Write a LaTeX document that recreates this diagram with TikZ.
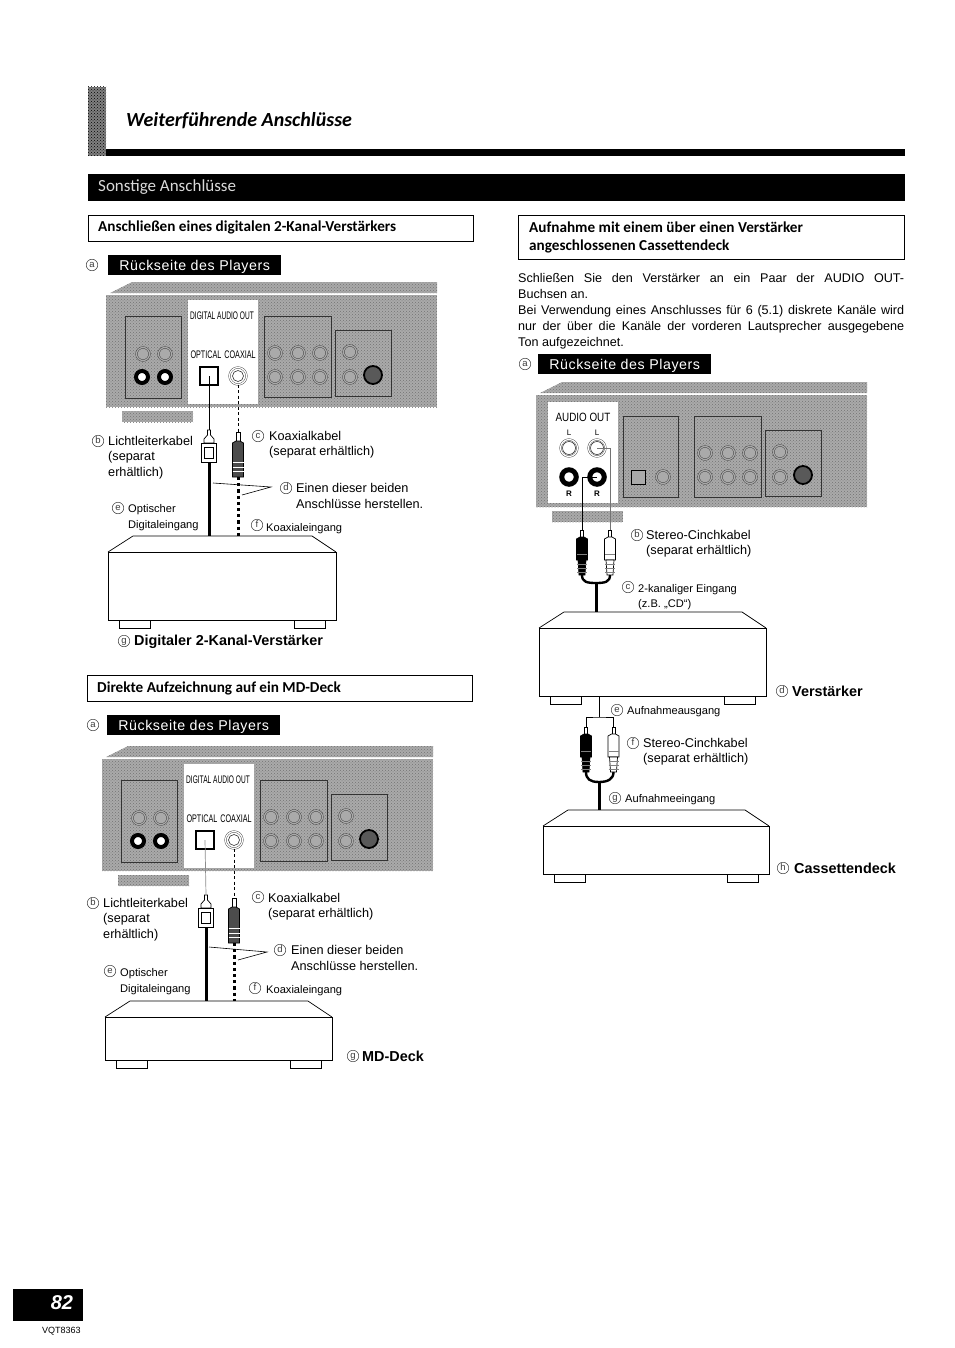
\documentclass[tikz,border=0pt]{standalone}
\usepackage{graphicx}
\usepackage{fontspec}
\setmainfont{Liberation Sans}
\newfontfamily\headfont{Carlito}
\usetikzlibrary{patterns, calc}
\definecolor{panelGray}{HTML}{AAAAAA}
\definecolor{markGray}{HTML}{3A3A3A}
\newcommand{\fsz}[1]{\fontsize{#1}{#1}\selectfont}
\tikzset{
  lbl/.style={anchor=west, inner sep=0pt, yshift=-0.4pt, font=\fsz{12.7}},
  smalllbl/.style={anchor=west, inner sep=0pt, yshift=-1.5pt, font=\fsz{11.1}},
  boldlbl/.style={anchor=west, inner sep=0pt, yshift=-0.4pt, font=\fsz{14.4}\bfseries},
  marklbl/.style={circle, draw=markGray, line width=0.5pt, inner sep=0pt, minimum size=11.5pt, text=markGray, text height=5.5pt, text depth=0pt, font=\fsz{9.5}},
  headlbl/.style={anchor=west, inner sep=0pt, yshift=-1pt, font=\fsz{15.2}\headfont\bfseries},
  blackbar/.style={fill=black, inner sep=0pt, text=white, text height=12pt, text depth=2pt, font=\fsz{14.2}},
  headbox/.style={draw=black, line width=0.9pt, inner sep=0pt},
  halftone/.style={preaction={fill=panelGray}, pattern=crosshatch dots, pattern color=black!55},
  boxline/.style={draw=black!80, line width=0.6pt},
  jack/.style={circle, draw=black!80, double=panelGray, double distance=1.3pt, fill=panelGray, inner sep=0pt, minimum size=13pt},
  whitejack/.style={circle, draw=black!80, double=white, double distance=1.3pt, fill=white, inner sep=0pt, minimum size=17pt},
  injack/.style={circle, draw=black!80, line width=0.6pt, inner sep=0pt, minimum size=11pt},
  blackjack/.style={circle, draw=black, line width=4pt, fill=white, inner sep=0pt, minimum size=12pt},
  svideo/.style={circle, draw=black, line width=1.8pt, fill=black!65, inner sep=0pt, minimum size=18pt},
  portlbl/.style={inner sep=0pt, font=\fsz{11}},
  devicefront/.style={draw=black, line width=0.8pt, fill=white, inner sep=0pt, outer sep=0pt},
  deviceline/.style={draw=black, line width=0.7pt},
  lead/.style={draw=black, line width=0.7pt},
  dashlead/.style={draw=black, line width=0.6pt, dash pattern=on 3pt off 2.5pt},
  fatcable/.style={draw=black, line width=3pt},
  dotcable/.style={draw=black, line width=3pt, dash pattern=on 3.2pt off 3pt},
  ycable/.style={draw=black, line width=2.4pt},
  pointer/.style={draw=black, line width=0.6pt},
  pics/playerback/.style={code={
    \path[halftone] (4,-2) -- (26,-13) -- (331,-13) -- (331,-2) -- cycle;
    \path[halftone] (0,0) rectangle (331,112);
    \path[halftone] (16,116) rectangle (87,127);
    \draw[boxline] (158,21) rectangle (225,102);
    \draw[boxline] (229,35) rectangle (285,101);
    \foreach \x/\y/\n in {169/58/a, 192/58/b, 214/58/c, 169/82/d, 192/82/e, 214/82/f, 244/57/g, 244/82/h}
      \node[jack] (-j\n) at (\x,\y) {};
    \node[svideo] (-sv) at (267,80) {};
  }},
  pics/digipanel/.style={code={
    \pic {playerback};
    \draw[boxline] (19,21) rectangle (75,103);
    \foreach \x/\n in {37/a, 59/b}
      \node[jack] (-t\n) at (\x,59) {};
    \foreach \x/\n in {36/a, 59/b}
      \node[blackjack] (-u\n) at (\x,82) {};
    \draw[fill=white, draw=white] (82,5) rectangle (151,108);
    \node[portlbl] (-dao) at (116,21) {\scalebox{.6}[1]{DIGITAL AUDIO OUT}};
    \node[portlbl] (-optlbl) at (100,60) {\scalebox{.655}[1]{OPTICAL}};
    \node[portlbl] (-coaxlbl) at (134,60) {\scalebox{.655}[1]{COAXIAL}};
    \node[draw=black, line width=1.3pt, fill=white, minimum size=18pt, inner sep=0pt] (-opt) at (103,81) {};
    \node[whitejack] (-coax) at (132,81) {};
    \node[injack] (-coaxin) at (132,81) {};
  }},
  pics/audiopanel/.style={code={
    \pic {playerback};
    \draw[boxline] (87,21) rectangle (142,102);
    \node[draw=black, line width=1pt, fill=panelGray, minimum size=14pt, inner sep=0pt] (-sq) at (102,82) {};
    \node[jack] (-cx) at (127,82) {};
    \draw[fill=white, draw=white] (12,7) rectangle (81,107);
    \node[portlbl, font=\fsz{12}] (-ao) at (47,22) {\scalebox{.82}[1]{AUDIO OUT}};
    \foreach \x/\n in {33/a, 61/b} {
      \node[portlbl, font=\fsz{8}] (-ll\n) at (\x,38) {L};
      \node[whitejack] (-l\n) at (\x,53) {};
      \node[injack, minimum size=13pt] (-li\n) at (\x,53) {};
      \node[blackjack, line width=5pt, minimum size=14.5pt] (-r\n) at (\x,82) {};
      \node[portlbl, font=\fsz{8}\bfseries] (-rl\n) at (\x,99) {R};
    }
  }},
  pics/optplug/.style={code={
    \draw[line width=0.7pt, fill=white] (-1.5,5) -- (-1.5,0) -- (1.5,0) -- (1.5,5) -- (5,9) -- (5,13) -- (-5,13) -- (-5,9) -- cycle;
    \draw[line width=0.7pt, fill=white] (-7.5,13) rectangle (7.5,32);
    \draw[line width=0.7pt] (-4.5,17) rectangle (4.5,28);
    \coordinate (-tip) at (0,0);
    \coordinate (-tail) at (0,32);
  }},
  pics/coaxplug/.style={code={
    \draw[line width=0.7pt, fill=white] (-2,9) -- (-2,0) -- (2,0) -- (2,9) -- cycle;
    \draw[line width=0.7pt, fill=black!70] (-5.5,11) -- (-2,9) -- (2,9) -- (5.5,11) -- (5.5,45) -- (-5.5,45) -- cycle;
    \foreach \y in {30, 35, 39}
      \draw[white, line width=0.9pt] (-5.5,\y) -- (5.5,\y);
    \coordinate (-tip) at (0,0);
    \coordinate (-tail) at (0,45);
  }},
  pics/rcaplug/.style={code={
    \draw[line width=0.7pt, fill=white] (-1.5,7) -- (-1.5,0) -- (1.5,0) -- (1.5,7) -- cycle;
    \draw[line width=0.7pt, fill=#1] (-5.5,9) -- (-2,7) -- (2,7) -- (5.5,9) -- (5.5,30) -- (-5.5,30) -- cycle;
    \draw[line width=0.7pt, fill=#1] (-4,30) -- (4,30) -- (3,45) -- (-3,45) -- cycle;
    \foreach \y in {24, 34, 38, 42}
      \draw[black!50, line width=0.7pt] (-5,\y) -- (5,\y);
    \coordinate (-tip) at (0,0);
    \coordinate (-tail) at (0,45);
  }},
}

\begin{document}
\begin{tikzpicture}[x=1pt, y=-1pt]
    \useasboundingbox (0,0) rectangle (954,1348);
    % page head
    \path[preaction={fill=black!50}, pattern=crosshatch dots, pattern color=black] (88,87) rectangle (106,156);
    \fill[black] (106,149) rectangle (905,156);
    \node[anchor=west, inner sep=0pt, font=\fsz{20}\headfont\bfseries\itshape] (ttitle) at (126,121) {Weiterführende Anschlüsse};
    \node[fill=black, anchor=north west, inner sep=0pt, minimum width=817pt, minimum height=27pt] (secbar) at (88,174) {};
    \node[anchor=west, inner sep=0pt, text=white!85!black, font=\fsz{17}\headfont] (tsec) at (98,187.5) {Sonstige Anschlüsse};
    % section boxes
    \draw[headbox] (88,215) rectangle (473,241);
    \node[headlbl] (hdig) at (98,226) {Anschließen eines digitalen 2-Kanal-Verstärkers};
    \draw[headbox] (518,215) rectangle (904,259);
    \node[headlbl] (hrec) at (529,226) {Aufnahme mit einem über einen Verstärker};
    \node[headlbl] (hrecb) at (529,245) {angeschlossenen Cassettendeck};
    \draw[headbox] (87,675) rectangle (472,701);
    \node[headlbl] (hmd) at (97,687) {Direkte Aufzeichnung auf ein MD-Deck};
    % paragraph
    \node[anchor=north west, inner sep=0pt, text width=386pt, align=justify, font=\fontsize{12.6}{16}\selectfont] (tpara) at (518,273.5) {Schließen Sie den Verstärker an ein Paar der AUDIO OUT-\linebreak Buchsen an.\\ Bei Verwendung eines Anschlusses für 6 (5.1) diskrete Kanäle wird\linebreak nur der über die Kanäle der vorderen Lautsprecher ausgegebene\linebreak Ton aufgezeichnet.};
    % black bars
    \foreach \nm/\x/\y in {bara/108/255, barb/107/715, barc/538/354}
      \node[blackbar, anchor=north west, minimum width=173pt, minimum height=20pt] (\nm) at (\x,\y) {\addfontfeature{LetterSpace=4}Rückseite des Players};
    % player panels
    \pic (pa) at (106,295) {digipanel};
    \pic (pb) at (102,759) {digipanel};
    \pic (pc) at (536,395) {audiopanel};
    % devices
    \foreach \nm/\cx/\cy/\w/\h in {amptwo/222/586/228/68, mddeck/218.5/1038.5/227/43, ampfront/652.5/662/227/68, cassette/656/850/226/48} {
      \node[devicefront, minimum width=\w pt, minimum height=\h pt] (\nm) at (\cx,\cy) {};
      \coordinate (\nm-top) at ($(\nm.north)+(0,-16)$);
      \draw[deviceline] (\nm.north west) -- +(25,-16) -- ($(\nm.north east)+(-24,-16)$) -- (\nm.north east);
      \draw[deviceline] ($(\nm.south west)+(11,0)$) rectangle +(31,8);
      \draw[deviceline] ($(\nm.south east)+(-42,0)$) rectangle +(31,8);
    }
    % digital links
    \pic (oa) at (209,430) {optplug};
    \pic (ca) at (238,432) {coaxplug};
    \pic (ob) at (206,895) {optplug};
    \pic (cb) at (234,898) {coaxplug};
    \draw[lead] (pa-opt.center) -- (oa-tip);
    \draw[dashlead] (pa-coax.south) -- (ca-tip);
    \draw[lead, draw=black!45] (pb-opt.center) -- (ob-tip);
    \draw[dashlead] (pb-coax.south) -- (cb-tip);
    \draw[fatcable] (oa-tail) -- (oa-tail |- amptwo-top);
    \draw[dotcable] (ca-tail) -- (ca-tail |- amptwo-top);
    \draw[fatcable] (ob-tail) -- (ob-tail |- mddeck-top);
    \draw[dotcable] (cb-tail) -- (cb-tail |- mddeck-top);
    \coordinate (pta) at (271,487);
    \coordinate (ptb) at (267,952);
    \draw[pointer] (213,483) -- (pta) -- (242,495);
    \draw[pointer] (209,947) -- (ptb) -- (238,960);
    % stereo links
    \pic (rcaa) at (582,530) {rcaplug=black};
    \pic (rcab) at (610,530) {rcaplug=white};
    \draw[lead] (pc-rb.center) -| (rcaa-tip);
    \draw[lead, draw=black!55] (pc-lb.center) -| (rcab-tip);
    \coordinate (joina) at (596,583);
    \draw[ycable] (rcaa-tail) .. controls +(0,7) and +(-9,0) .. (joina) .. controls +(9,0) and +(0,7) .. (rcab-tail);
    \draw[fatcable] (joina) -- (joina |- ampfront-top);
    \pic (rcac) at (586,727) {rcaplug=black};
    \pic (rcad) at (613.5,727) {rcaplug=white};
    \coordinate (brk) at (599,717);
    \draw[lead] (rcac-tip) |- (brk) -| (rcad-tip);
    \draw[lead] (brk) -- (brk |- ampfront.south);
    \coordinate (joinb) at (599,782);
    \draw[ycable] (rcac-tail) .. controls +(0,7) and +(-9,0) .. (joinb) .. controls +(9,0) and +(0,7) .. (rcad-tail);
    \draw[fatcable] (joinb) -- (joinb |- cassette-top);
    % circled letters
    \foreach \nm/\x/\y/\ch in {a1/92/265/a, b1/98/441/b, c1/258/436/c, d1/286/488/d, e1/118/508/e, f1/257/525/f, g1/124/641/g,
        a2/93/725/a, b2/93/903/b, c2/258/897/c, d2/280/950/d, e2/110/971/e, f2/255/988/f, g2/353/1056/g,
        a3/525/364/a, b3/637/535/b, c3/628/587/c, d3/782/691/d, e3/617/710/e, f3/633/743/f, g3/615/798/g, h3/783/868/h}
      \node[marklbl] (m\nm) at (\x,\y) {\ch};
    % labels, top left
    \node[lbl] (tlichta) at (108,441) {Lichtleiterkabel};
    \node[lbl] (tlichtb) at (108,457) {(separat};
    \node[lbl] (tlichtc) at (108,473) {erhältlich)};
    \node[lbl] (tkoaxa) at (269,436) {Koaxialkabel};
    \node[lbl] (tkoaxb) at (269,452) {(separat erhältlich)};
    \node[lbl] (teina) at (296,488) {Einen dieser beiden};
    \node[lbl] (teinb) at (296,504) {Anschlüsse herstellen.};
    \node[smalllbl] (toptb) at (128,508) {Optischer};
    \node[smalllbl] (toptc) at (128,524) {Digitaleingang};
    \node[smalllbl] (tkoaxe) at (266,527) {Koaxialeingang};
    \node[boldlbl] (tampa) at (134,641) {Digitaler 2-Kanal-Verstärker};
    % labels, bottom left
    \node[lbl] (tlichtd) at (103,903) {Lichtleiterkabel};
    \node[lbl] (tlichte) at (103,919) {(separat};
    \node[lbl] (tlichtf) at (103,935) {erhältlich)};
    \node[lbl] (tkoaxc) at (268,898) {Koaxialkabel};
    \node[lbl] (tkoaxd) at (268,914) {(separat erhältlich)};
    \node[lbl] (teinc) at (291,950) {Einen dieser beiden};
    \node[lbl] (teind) at (291,966) {Anschlüsse herstellen.};
    \node[smalllbl] (toptd) at (120,972) {Optischer};
    \node[smalllbl] (topte) at (120,988) {Digitaleingang};
    \node[smalllbl] (tkoaxf) at (266,989) {Koaxialeingang};
    \node[boldlbl] (tmd) at (362,1056) {MD-Deck};
    % labels, right
    \node[lbl] (tcincha) at (646,535) {Stereo-Cinchkabel};
    \node[lbl] (tcinchb) at (646,551) {(separat erhältlich)};
    \node[smalllbl] (tkana) at (638,588) {2-kanaliger Eingang};
    \node[smalllbl] (tkanb) at (638,603) {(z.B. „CD“)};
    \node[boldlbl] (tamp) at (792,691) {Verstärker};
    \node[smalllbl] (tausg) at (627,710) {Aufnahmeausgang};
    \node[lbl] (tcinchc) at (643,743) {Stereo-Cinchkabel};
    \node[lbl] (tcinchd) at (643,759) {(separat erhältlich)};
    \node[smalllbl] (teing) at (625,798) {Aufnahmeeingang};
    \node[boldlbl] (tcass) at (794,868) {Cassettendeck};
    % page number
    \node[fill=black, anchor=north west, inner sep=0pt, minimum width=70pt, minimum height=32pt] (pagebox) at (13,1289) {};
    \node[text=white, inner sep=0pt, font=\fsz{20}\bfseries\itshape] (pagenr) at (62,1303) {82};
    \node[anchor=west, inner sep=0pt, font=\fsz{9}] (tcode) at (42,1331) {VQT8363};
\end{tikzpicture}
\end{document}
